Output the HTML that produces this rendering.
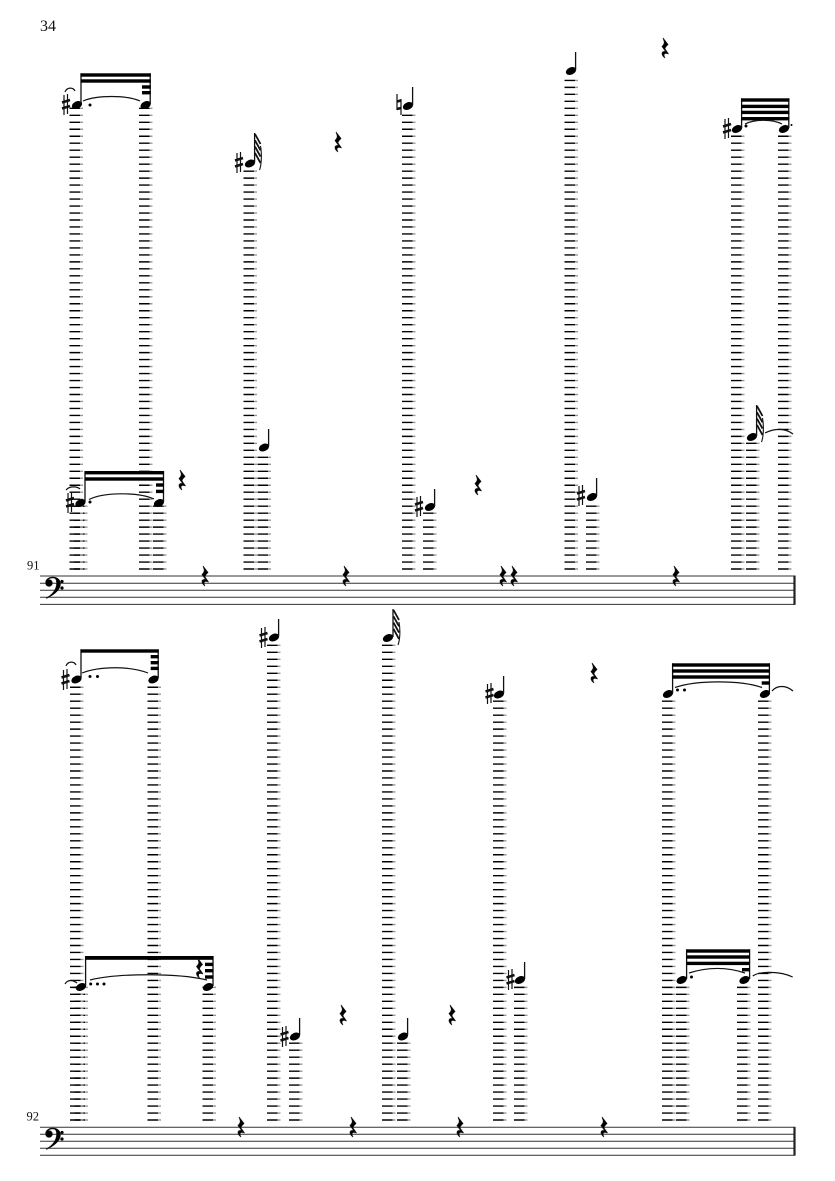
<!DOCTYPE html>
<html><head><meta charset="utf-8"><style>
html,body{margin:0;padding:0;background:#fff}
svg{display:block}
text{font-family:"Liberation Serif",serif;fill:#111}
.a line{stroke:#000;stroke-width:10.5;stroke-dasharray:1.4 5.58}
.b line{stroke:#999;stroke-width:3;stroke-dasharray:1.4 5.58}
.st line{stroke:#333;stroke-width:1}
.stem{stroke:#111;stroke-width:1.3}
.tie{fill:none;stroke:#111;stroke-width:1.2}
.sh{fill:none;stroke:#111;stroke-width:1.2}
.sh2{fill:none;stroke:#111;stroke-width:2.5}
.fl{fill:none;stroke:#111;stroke-width:1.8}
.fl2{fill:none;stroke:#111;stroke-width:1.1}
.rest{stroke:#111;stroke-width:.7}
.clef{stroke:#111;stroke-width:.4}
</style></head><body>
<svg width="835" height="1181" viewBox="0 0 835 1181" xmlns="http://www.w3.org/2000/svg">
<rect width="835" height="1181" fill="#fff"/>
<text x="40" y="31" font-size="16">34</text>
<text x="27" y="569.300" font-size="12.5">91</text>
<text x="26.500" y="1120.500" font-size="12.5">92</text>

<g class="st">
<line x1="40" x2="794" y1="576" y2="576"/><line x1="40" x2="794" y1="583.2" y2="583.2"/><line x1="40" x2="794" y1="590.3" y2="590.3"/><line x1="40" x2="794" y1="597.3" y2="597.3"/><line x1="40" x2="794" y1="604.4" y2="604.4"/>
<line x1="40" x2="794" y1="1127.3" y2="1127.3"/><line x1="40" x2="794" y1="1134.2" y2="1134.2"/><line x1="40" x2="794" y1="1141.2" y2="1141.2"/><line x1="40" x2="794" y1="1148.2" y2="1148.2"/><line x1="40" x2="794" y1="1155.2" y2="1155.2"/>
</g>
<rect x="793.4" y="575.5" width="2.2" height="29.4" fill="#222"/>
<rect x="793.4" y="1126.8" width="2.2" height="28.9" fill="#222"/>

<g class="a">
<line x1="74.75" x2="74.75" y1="569.7" y2="107"/>
<line x1="144.25" x2="144.25" y1="569.7" y2="107"/>
<line x1="79.25" x2="79.25" y1="569.7" y2="505"/>
<line x1="158.25" x2="158.25" y1="569.7" y2="505"/>
<line x1="248.75" x2="248.75" y1="569.7" y2="170"/>
<line x1="262.75" x2="262.75" y1="569.7" y2="456"/>
<line x1="407.25" x2="407.25" y1="569.7" y2="114"/>
<line x1="428.25" x2="428.25" y1="569.7" y2="512"/>
<line x1="569.75" x2="569.75" y1="569.7" y2="79"/>
<line x1="591.25" x2="591.25" y1="569.7" y2="505"/>
<line x1="736.25" x2="736.25" y1="569.7" y2="135"/>
<line x1="751.25" x2="751.25" y1="569.7" y2="442"/>
<line x1="783.25" x2="783.25" y1="569.7" y2="135"/>
<line x1="75.25" x2="75.25" y1="1120.7" y2="686"/>
<line x1="152.75" x2="152.75" y1="1120.7" y2="686"/>
<line x1="79.75" x2="79.75" y1="1120.7" y2="986"/>
<line x1="207.75" x2="207.75" y1="1120.7" y2="986"/>
<line x1="272.25" x2="272.25" y1="1120.7" y2="644"/>
<line x1="294.25" x2="294.25" y1="1120.7" y2="1042"/>
<line x1="387.25" x2="387.25" y1="1120.7" y2="644"/>
<line x1="402.25" x2="402.25" y1="1120.7" y2="1042"/>
<line x1="498.25" x2="498.25" y1="1120.7" y2="700"/>
<line x1="519.25" x2="519.25" y1="1120.7" y2="986"/>
<line x1="667.25" x2="667.25" y1="1120.7" y2="700"/>
<line x1="681.25" x2="681.25" y1="1120.7" y2="986"/>
<line x1="742.25" x2="742.25" y1="1120.7" y2="986"/>
<line x1="763.25" x2="763.25" y1="1120.7" y2="700"/>
</g>
<g class="b">
<line x1="81.5" x2="81.5" y1="569.7" y2="107"/>
<line x1="151" x2="151" y1="569.7" y2="107"/>
<line x1="86" x2="86" y1="569.7" y2="505"/>
<line x1="165" x2="165" y1="569.7" y2="505"/>
<line x1="255.5" x2="255.5" y1="569.7" y2="170"/>
<line x1="269.5" x2="269.5" y1="569.7" y2="456"/>
<line x1="414" x2="414" y1="569.7" y2="114"/>
<line x1="435" x2="435" y1="569.7" y2="512"/>
<line x1="576.5" x2="576.5" y1="569.7" y2="79"/>
<line x1="598" x2="598" y1="569.7" y2="505"/>
<line x1="743" x2="743" y1="569.7" y2="135"/>
<line x1="758" x2="758" y1="569.7" y2="442"/>
<line x1="790" x2="790" y1="569.7" y2="135"/>
<line x1="82" x2="82" y1="1120.7" y2="686"/>
<line x1="159.5" x2="159.5" y1="1120.7" y2="686"/>
<line x1="86.5" x2="86.5" y1="1120.7" y2="986"/>
<line x1="214.5" x2="214.5" y1="1120.7" y2="986"/>
<line x1="279" x2="279" y1="1120.7" y2="644"/>
<line x1="301" x2="301" y1="1120.7" y2="1042"/>
<line x1="394" x2="394" y1="1120.7" y2="644"/>
<line x1="409" x2="409" y1="1120.7" y2="1042"/>
<line x1="505" x2="505" y1="1120.7" y2="700"/>
<line x1="526" x2="526" y1="1120.7" y2="986"/>
<line x1="674" x2="674" y1="1120.7" y2="700"/>
<line x1="688" x2="688" y1="1120.7" y2="986"/>
<line x1="749" x2="749" y1="1120.7" y2="986"/>
<line x1="770" x2="770" y1="1120.7" y2="700"/>
</g>

<!-- noteheads -->
<g fill="#000">
<ellipse cx="0" cy="0" rx="5.4" ry="3.6" transform="translate(77,105) rotate(-25)"/>
<ellipse cx="0" cy="0" rx="5.4" ry="3.6" transform="translate(145.700,105) rotate(-25)"/>
<ellipse cx="0" cy="0" rx="5.4" ry="3.6" transform="translate(80.500,503) rotate(-25)"/>
<ellipse cx="0" cy="0" rx="5.4" ry="3.6" transform="translate(159,503) rotate(-25)"/>
<ellipse cx="0" cy="0" rx="5.4" ry="3.6" transform="translate(250,163.500) rotate(-25)"/>
<ellipse cx="0" cy="0" rx="5.4" ry="3.6" transform="translate(264,447.500) rotate(-25)"/>
<ellipse cx="0" cy="0" rx="5.4" ry="3.6" transform="translate(408,106) rotate(-25)"/>
<ellipse cx="0" cy="0" rx="5.4" ry="3.6" transform="translate(430,507) rotate(-25)"/>
<ellipse cx="0" cy="0" rx="5.4" ry="3.6" transform="translate(571,71) rotate(-25)"/>
<ellipse cx="0" cy="0" rx="5.4" ry="3.6" transform="translate(592,497) rotate(-25)"/>
<ellipse cx="0" cy="0" rx="5.4" ry="3.6" transform="translate(737,129) rotate(-25)"/>
<ellipse cx="0" cy="0" rx="5.4" ry="3.6" transform="translate(784,129) rotate(-25)"/>
<ellipse cx="0" cy="0" rx="5.4" ry="3.6" transform="translate(752,437) rotate(-25)"/>
<ellipse cx="0" cy="0" rx="5.4" ry="3.6" transform="translate(76.500,679.500) rotate(-25)"/>
<ellipse cx="0" cy="0" rx="5.4" ry="3.6" transform="translate(153.500,679.500) rotate(-25)"/>
<ellipse cx="0" cy="0" rx="5.4" ry="3.6" transform="translate(81,987) rotate(-25)"/>
<ellipse cx="0" cy="0" rx="5.4" ry="3.6" transform="translate(208,987) rotate(-25)"/>
<ellipse cx="0" cy="0" rx="5.4" ry="3.6" transform="translate(274,637.500) rotate(-25)"/>
<ellipse cx="0" cy="0" rx="5.4" ry="3.6" transform="translate(295,1036.500) rotate(-25)"/>
<ellipse cx="0" cy="0" rx="5.4" ry="3.6" transform="translate(388,638) rotate(-25)"/>
<ellipse cx="0" cy="0" rx="5.4" ry="3.6" transform="translate(403,1036.500) rotate(-25)"/>
<ellipse cx="0" cy="0" rx="5.4" ry="3.6" transform="translate(499,694.500) rotate(-25)"/>
<ellipse cx="0" cy="0" rx="5.4" ry="3.6" transform="translate(520,980) rotate(-25)"/>
<ellipse cx="0" cy="0" rx="5.4" ry="3.6" transform="translate(668,694) rotate(-25)"/>
<ellipse cx="0" cy="0" rx="5.4" ry="3.6" transform="translate(765,694) rotate(-25)"/>
<ellipse cx="0" cy="0" rx="5.4" ry="3.6" transform="translate(681.700,980) rotate(-25)"/>
<ellipse cx="0" cy="0" rx="5.4" ry="3.6" transform="translate(744.500,980) rotate(-25)"/>
</g>

<!-- stems -->
<g class="stem">
<line x1="81" x2="81" y1="73.3" y2="104"/><line x1="150.2" x2="150.2" y1="73.3" y2="104"/>
<line x1="85" x2="85" y1="471" y2="502"/><line x1="163.5" x2="163.5" y1="471" y2="502"/>
<line x1="254.6" x2="254.6" y1="133" y2="162"/>
<line x1="268.6" x2="268.6" y1="429" y2="446"/>
<line x1="412.6" x2="412.6" y1="87" y2="105"/>
<line x1="434.6" x2="434.6" y1="489" y2="506"/>
<line x1="575.6" x2="575.6" y1="52" y2="70"/>
<line x1="596.6" x2="596.6" y1="478" y2="496"/>
<line x1="741.6" x2="741.6" y1="98.3" y2="128"/><line x1="788.8" x2="788.8" y1="98.3" y2="128"/>
<line x1="756.6" x2="756.6" y1="405" y2="436"/>
<line x1="81" x2="81" y1="649.3" y2="678"/><line x1="158.2" x2="158.2" y1="649.3" y2="678"/>
<line x1="85.6" x2="85.6" y1="956" y2="986"/><line x1="213" x2="213" y1="956" y2="986"/>
<line x1="278.6" x2="278.6" y1="619" y2="636"/>
<line x1="299.6" x2="299.6" y1="1018" y2="1035"/>
<line x1="393" x2="393" y1="609" y2="637"/>
<line x1="407.6" x2="407.6" y1="1018" y2="1035"/>
<line x1="503.6" x2="503.6" y1="676" y2="693"/>
<line x1="524.6" x2="524.6" y1="962" y2="979"/>
<line x1="672.6" x2="672.6" y1="663.3" y2="693"/><line x1="769.4" x2="769.4" y1="663.3" y2="693"/>
<line x1="686.6" x2="686.6" y1="949.3" y2="979"/><line x1="749.6" x2="749.6" y1="949.3" y2="979"/>
</g>

<!-- beams -->
<g fill="#000">
<rect x="80.5" y="73.3" width="70.3" height="3.4"/><rect x="80.5" y="79.3" width="70.3" height="3.4"/>
<rect x="142" y="85.3" width="8.8" height="3.4"/><rect x="142" y="91" width="8.8" height="3.4"/>
<rect x="84.5" y="471" width="79.5" height="3.4"/><rect x="84.5" y="477.3" width="79.5" height="3.4"/>
<rect x="156" y="483.3" width="8" height="3.4"/><rect x="156" y="489.7" width="8" height="3.4"/>
<rect x="741" y="98.3" width="48.3" height="3.4"/><rect x="741" y="104.7" width="48.3" height="3.4"/><rect x="741" y="110.7" width="48.3" height="3.4"/><rect x="741" y="117" width="48.3" height="3.4"/>
<rect x="80.5" y="649.3" width="78.2" height="3.4"/>
<rect x="150.7" y="655" width="8" height="3.4"/><rect x="150.7" y="661" width="8" height="3.4"/><rect x="150.7" y="666.7" width="8" height="3.4"/>
<rect x="85" y="956" width="128.5" height="3.8"/>
<rect x="205" y="962.7" width="8.5" height="3.4"/><rect x="205" y="969" width="8.5" height="3.4"/><rect x="205" y="975.3" width="8.5" height="3.4"/>
<rect x="672" y="663.3" width="97.9" height="3.4"/><rect x="672" y="669.3" width="97.9" height="3.4"/><rect x="672" y="675.3" width="97.9" height="3.4"/>
<rect x="761.7" y="681.3" width="8.2" height="3.4"/>
<rect x="686.5" y="949.3" width="63.5" height="3.4"/><rect x="686.5" y="955.3" width="63.5" height="3.4"/><rect x="686.5" y="961.7" width="63.5" height="3.4"/>
<rect x="742" y="968" width="8" height="3.4"/>
</g>

<!-- flags -->
<path class="fl" d="M255 134l5.500 10M255 140.300l5.500 10M255 146.600l5.500 10M255 152.900l5.500 10"/>
<path class="fl2" d="M260.500 146C262 154 261.500 165 259.500 170"/>
<path class="fl" d="M757 406l5.500 10M757 412.300l5.500 10M757 418.600l5.500 10M757 424.900l5.500 10"/>
<path class="fl2" d="M762.500 418C764 426 763.500 437 761.500 442"/>
<path class="fl" d="M393.500 610l5.500 10M393.500 616.300l5.500 10M393.500 622.600l5.500 10M393.500 628.900l5.500 10"/>
<path class="fl2" d="M399 622C400.500 630 400 640 398 645"/>

<!-- ties -->
<g class="tie">
<path d="M83 101C97 95 126 95 140 101"/>
<path d="M89 499.500C104 492 138 492 154 499"/>
<path d="M745 124C755 119 772 119 782 124"/>
<path d="M765 433C775 428 785 428 793 434"/>
<path d="M65 92C67 87 73 87 75 91"/>
<path d="M66 490C69 486 77 486 80 489"/>
<path d="M66 666C68 661 74 661 76 665"/>
<path d="M65 984C68 979 73 980 77 983"/>
<path d="M82 673C100 666 130 666 148 673"/>
<path d="M90 980C118 973 178 973 207 980"/>
<path d="M675 687.500C697 680 740 680 762 687.500"/>
<path d="M772 691C777 685 786 685 793 691"/>
<path d="M689 973C708 967 727 967 745 973"/>
<path d="M752.700 976C760 971 780 971 792.700 977"/>
</g>

<!-- dots -->
<g fill="#000">
<circle cx="90" cy="105" r="1.5"/>
<circle cx="90" cy="502" r="1.5"/>
<circle cx="746" cy="126" r="1.5"/><circle cx="791.500" cy="125" r="1"/>
<circle cx="90" cy="676.500" r="1.5"/><circle cx="97.500" cy="676.500" r="1.5"/>
<circle cx="90.700" cy="984" r="1.5"/><circle cx="97.500" cy="984" r="1.5"/><circle cx="104" cy="984" r="1.5"/>
<circle cx="677.500" cy="690" r="1.5"/><circle cx="684.500" cy="690" r="1.5"/>
<circle cx="691.500" cy="977" r="1.5"/>
</g>

<!-- sharps -->
<g>
<path class="sh" d="M64 95V115M67.500 94V114"/><path class="sh2" d="M62 102.500L70 100M62 108.500L70 106"/>
<path class="sh" d="M68 493V513M71.500 492V512"/><path class="sh2" d="M66 500.500L74 498M66 506.500L74 504"/>
<path class="sh" d="M237 153V173M240.500 152V172"/><path class="sh2" d="M235 160.500L243 158M235 166.500L243 164"/>
<path class="sh" d="M417 497V517M420.500 496V516"/><path class="sh2" d="M415 504.500L423 502M415 510.500L423 508"/>
<path class="sh" d="M579 486V506M582.500 485V505"/><path class="sh2" d="M577 493.500L585 491M577 499.500L585 497"/>
<path class="sh" d="M725 119V139M728.500 118V138"/><path class="sh2" d="M723 126.500L731 124M723 132.500L731 130"/>
<path class="sh" d="M63.500 670V690M67 669V689"/><path class="sh2" d="M61.500 677.500L69.500 675M61.500 683.500L69.500 681"/>
<path class="sh" d="M261.500 628V648M265 627V647"/><path class="sh2" d="M259.500 635.500L267.500 633M259.500 641.500L267.500 639"/>
<path class="sh" d="M282.500 1027V1047M286 1026V1046"/><path class="sh2" d="M280.500 1034.500L288.500 1032M280.500 1040.500L288.500 1038"/>
<path class="sh" d="M487.500 684V704M491 683V703"/><path class="sh2" d="M485.500 691.500L493.500 689M485.500 697.500L493.500 695"/>
<path class="sh" d="M508.500 970V990M512 969V989"/><path class="sh2" d="M506.500 977.500L514.500 975M506.500 983.500L514.500 981"/>
<path class="sh" d="M397 94V110M401 99V115"/><path class="sh2" d="M397 101.500L401 100.500M397 109L401 108"/>
</g>

<!-- rests -->
<g fill="#000" class="rest">
<path transform="translate(334.500,132)" d="M1.500 0L6.500 6.500C5 8 3.500 9 3.500 11L7 16C5 15 2.500 15 2.500 17C2.500 18.500 3 19 3.500 20C1.500 18.500 .5 17 .5 15.500C.5 13.500 3 13 4.500 14L.5 8.500C2.500 6.500 3.500 5 2.500 3Z"/>
<path transform="translate(178.500,470)" d="M1.500 0L6.500 6.500C5 8 3.500 9 3.500 11L7 16C5 15 2.500 15 2.500 17C2.500 18.500 3 19 3.500 20C1.500 18.500 .5 17 .5 15.500C.5 13.500 3 13 4.500 14L.5 8.500C2.500 6.500 3.500 5 2.500 3Z"/>
<path transform="translate(201.500,566)" d="M1.500 0L6.500 6.500C5 8 3.500 9 3.500 11L7 16C5 15 2.500 15 2.500 17C2.500 18.500 3 19 3.500 20C1.500 18.500 .5 17 .5 15.500C.5 13.500 3 13 4.500 14L.5 8.500C2.500 6.500 3.500 5 2.500 3Z"/>
<path transform="translate(342.500,566)" d="M1.500 0L6.500 6.500C5 8 3.500 9 3.500 11L7 16C5 15 2.500 15 2.500 17C2.500 18.500 3 19 3.500 20C1.500 18.500 .5 17 .5 15.500C.5 13.500 3 13 4.500 14L.5 8.500C2.500 6.500 3.500 5 2.500 3Z"/>
<path transform="translate(474.500,475)" d="M1.500 0L6.500 6.500C5 8 3.500 9 3.500 11L7 16C5 15 2.500 15 2.500 17C2.500 18.500 3 19 3.500 20C1.500 18.500 .5 17 .5 15.500C.5 13.500 3 13 4.500 14L.5 8.500C2.500 6.500 3.500 5 2.500 3Z"/>
<path transform="translate(499.500,566)" d="M1.500 0L6.500 6.500C5 8 3.500 9 3.500 11L7 16C5 15 2.500 15 2.500 17C2.500 18.500 3 19 3.500 20C1.500 18.500 .5 17 .5 15.500C.5 13.500 3 13 4.500 14L.5 8.500C2.500 6.500 3.500 5 2.500 3Z"/>
<path transform="translate(510.500,566)" d="M1.500 0L6.500 6.500C5 8 3.500 9 3.500 11L7 16C5 15 2.500 15 2.500 17C2.500 18.500 3 19 3.500 20C1.500 18.500 .5 17 .5 15.500C.5 13.500 3 13 4.500 14L.5 8.500C2.500 6.500 3.500 5 2.500 3Z"/>
<path transform="translate(672.500,566)" d="M1.500 0L6.500 6.500C5 8 3.500 9 3.500 11L7 16C5 15 2.500 15 2.500 17C2.500 18.500 3 19 3.500 20C1.500 18.500 .5 17 .5 15.500C.5 13.500 3 13 4.500 14L.5 8.500C2.500 6.500 3.500 5 2.500 3Z"/>
<path transform="translate(661.500,38)" d="M1.500 0L6.500 6.500C5 8 3.500 9 3.500 11L7 16C5 15 2.500 15 2.500 17C2.500 18.500 3 19 3.500 20C1.500 18.500 .5 17 .5 15.500C.5 13.500 3 13 4.500 14L.5 8.500C2.500 6.500 3.500 5 2.500 3Z"/>
<path transform="translate(590.500,663)" d="M1.500 0L6.500 6.500C5 8 3.500 9 3.500 11L7 16C5 15 2.500 15 2.500 17C2.500 18.500 3 19 3.500 20C1.500 18.500 .5 17 .5 15.500C.5 13.500 3 13 4.500 14L.5 8.500C2.500 6.500 3.500 5 2.500 3Z"/>
<path transform="translate(237.500,1117)" d="M1.500 0L6.500 6.500C5 8 3.500 9 3.500 11L7 16C5 15 2.500 15 2.500 17C2.500 18.500 3 19 3.500 20C1.500 18.500 .5 17 .5 15.500C.5 13.500 3 13 4.500 14L.5 8.500C2.500 6.500 3.500 5 2.500 3Z"/>
<path transform="translate(349.500,1117)" d="M1.500 0L6.500 6.500C5 8 3.500 9 3.500 11L7 16C5 15 2.500 15 2.500 17C2.500 18.500 3 19 3.500 20C1.500 18.500 .5 17 .5 15.500C.5 13.500 3 13 4.500 14L.5 8.500C2.500 6.500 3.500 5 2.500 3Z"/>
<path transform="translate(456.500,1117)" d="M1.500 0L6.500 6.500C5 8 3.500 9 3.500 11L7 16C5 15 2.500 15 2.500 17C2.500 18.500 3 19 3.500 20C1.500 18.500 .5 17 .5 15.500C.5 13.500 3 13 4.500 14L.5 8.500C2.500 6.500 3.500 5 2.500 3Z"/>
<path transform="translate(600.500,1117)" d="M1.500 0L6.500 6.500C5 8 3.500 9 3.500 11L7 16C5 15 2.500 15 2.500 17C2.500 18.500 3 19 3.500 20C1.500 18.500 .5 17 .5 15.500C.5 13.500 3 13 4.500 14L.5 8.500C2.500 6.500 3.500 5 2.500 3Z"/>
<path transform="translate(339.500,1005)" d="M1.500 0L6.500 6.500C5 8 3.500 9 3.500 11L7 16C5 15 2.500 15 2.500 17C2.500 18.500 3 19 3.500 20C1.500 18.500 .5 17 .5 15.500C.5 13.500 3 13 4.500 14L.5 8.500C2.500 6.500 3.500 5 2.500 3Z"/>
<path transform="translate(448.500,1005)" d="M1.500 0L6.500 6.500C5 8 3.500 9 3.500 11L7 16C5 15 2.500 15 2.500 17C2.500 18.500 3 19 3.500 20C1.500 18.500 .5 17 .5 15.500C.5 13.500 3 13 4.500 14L.5 8.500C2.500 6.500 3.500 5 2.500 3Z"/>
<path transform="translate(196,958)" d="M1.500 0L6.500 6.500C5 8 3.500 9 3.500 11L7 16C5 15 2.500 15 2.500 17C2.500 18.500 3 19 3.500 20C1.500 18.500 .5 17 .5 15.500C.5 13.500 3 13 4.500 14L.5 8.500C2.500 6.500 3.500 5 2.500 3Z"/>
</g>

<!-- bass clefs -->
<g fill="#000" class="clef">
<g>
<circle cx="49" cy="583" r="3.5"/>
<path d="M46 598C53 594 56.500 589 56.500 583C56.500 579 55 578 52.500 578C49.500 578 47 580 46.500 582L45.500 582C46 579 49 577 52.500 577C58 577 60.500 580 60.500 584C60.500 590 54 595 46.500 598.500Z"/>
<circle cx="62" cy="581.500" r="1.5"/><circle cx="62" cy="588" r="1.5"/>
</g>
<g transform="translate(0,551)">
<circle cx="49" cy="583" r="3.5"/>
<path d="M46 598C53 594 56.500 589 56.500 583C56.500 579 55 578 52.500 578C49.500 578 47 580 46.500 582L45.500 582C46 579 49 577 52.500 577C58 577 60.500 580 60.500 584C60.500 590 54 595 46.500 598.500Z"/>
<circle cx="62" cy="581.500" r="1.5"/><circle cx="62" cy="588" r="1.5"/>
</g>
</g>
</svg>
</body></html>
